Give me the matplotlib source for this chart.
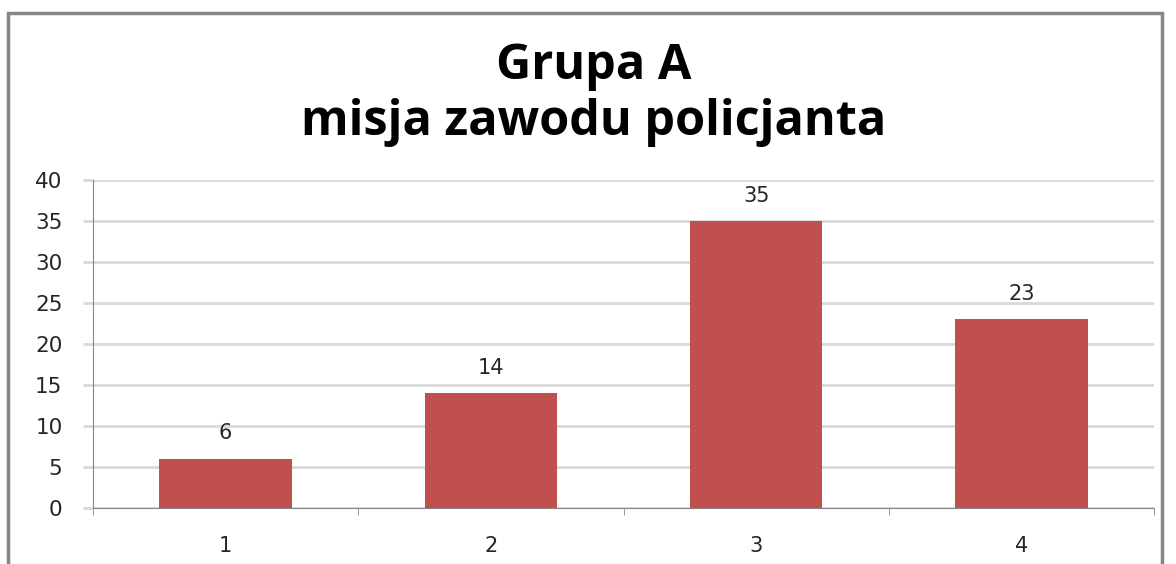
import matplotlib.pyplot as plt
from matplotlib.patches import Rectangle

categories = ['1', '2', '3', '4']
values = [6, 14, 35, 23]
yticks = [0, 5, 10, 15, 20, 25, 30, 35, 40]

bar_color = '#C0504D'
grid_color = '#D9D9D9'
axis_color = '#868686'
text_color = '#262626'

fig = plt.figure(figsize=(11.76, 5.64), dpi=100)
ax = fig.add_axes([0.0791, 0.0993, 0.9022, 0.5816])

x = list(range(len(categories)))
bars = ax.bar(x, values, width=0.5, color=bar_color, zorder=3)
for b, v in zip(bars, values):
    ax.text(b.get_x() + b.get_width() / 2, v + 3.1, str(v), ha='center', va='center',
            fontsize=15, color=text_color, family='DejaVu Sans')

ax.set_xlim(-0.5, 3.5)
ax.set_ylim(0, 40)
ax.set_yticks(yticks)
ax.set_yticklabels([str(t) for t in yticks], fontsize=15.5, color=text_color, family='DejaVu Sans')
ax.yaxis.grid(True, color=grid_color, linewidth=2, zorder=0)
ax.tick_params(axis='y', length=7, color=grid_color, width=2, pad=15)

ax.set_xticks(x)
ax.set_xticklabels(categories, fontsize=15, color=text_color, family='DejaVu Sans')
ax.set_xticks([-0.5, 0.5, 1.5, 2.5, 3.5], minor=True)
ax.tick_params(axis='x', which='major', length=0, pad=20)
ax.tick_params(axis='x', which='minor', length=5, color=axis_color, direction='out')

for s in ['top', 'right']:
    ax.spines[s].set_visible(False)
ax.spines['left'].set_color(axis_color)
ax.spines['bottom'].set_color(axis_color)

fig.text(0.505, 0.882, 'Grupa A', ha='center', va='center', fontsize=35,
         fontweight='bold', family='Open Sans', color='#000000')
fig.text(0.505, 0.782, 'misja zawodu policjanta', ha='center', va='center', fontsize=35,
         fontweight='bold', family='Open Sans', color='#000000')

fig.patches.append(Rectangle((8 / 1176, -0.05), 1154 / 1176, 1 - 13 / 564 + 0.05,
                             transform=fig.transFigure, fill=False,
                             edgecolor=axis_color, linewidth=2.5))

fig.savefig('out.png', dpi=100)
